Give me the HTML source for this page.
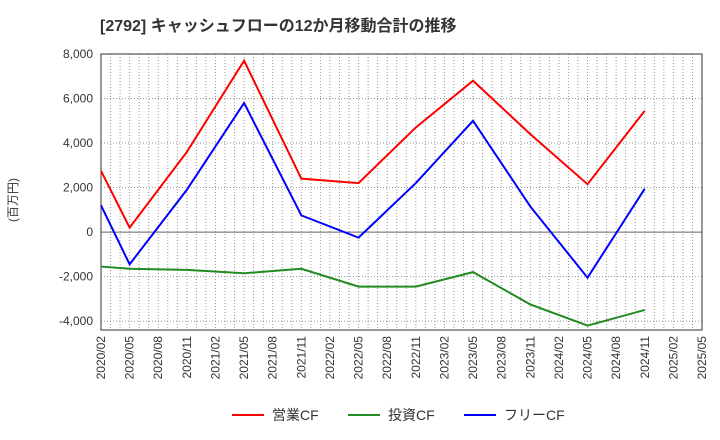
<!DOCTYPE html>
<html><head><meta charset="utf-8"><style>
body{margin:0;background:#fff;}
svg{display:block;font-family:"Liberation Sans","Noto Sans CJK JP",sans-serif;}
</style></head><body>
<svg id="c" width="720" height="440">
<text x="100" y="31" font-size="16" font-weight="bold" fill="#333">[2792]  キャッシュフローの12か月移動合計の推移</text>
<g id="grid"></g>
<g id="axes"></g>
<g id="series"></g>
<text transform="translate(17,200) rotate(-90)" font-size="12" fill="#333" text-anchor="middle">(百万円)</text>
<g>
<g><line x1="232" y1="415" x2="264" y2="415" stroke="#f00" stroke-width="2"/><text x="272" y="420" font-size="14" fill="#333">営業CF</text></g>
<g><line x1="348" y1="415" x2="380" y2="415" stroke="#228b22" stroke-width="2"/><text x="388" y="420" font-size="14" fill="#333">投資CF</text></g>
<g><line x1="464" y1="415" x2="496" y2="415" stroke="#00f" stroke-width="2"/><text x="504" y="420" font-size="14" fill="#333">フリーCF</text></g>
</g>
</svg>
<script>
const dates=["2020/02","2020/05","2020/11","2021/05","2021/11","2022/05","2022/11","2023/05","2023/11","2024/05","2024/11"];
const operating=[2750,200,3600,7700,2400,2200,4700,6800,4400,2150,5450];
const investing=[-1550,-1650,-1700,-1850,-1650,-2450,-2450,-1800,-3250,-4200,-3500];
const freeCF=[1200,-1450,1900,5800,750,-250,2200,5000,1150,-2050,1950];
const yTicks=[8000,6000,4000,2000,0,-2000,-4000];
const xTicks=["2020/02","2020/05","2020/08","2020/11","2021/02","2021/05","2021/08","2021/11","2022/02","2022/05","2022/08","2022/11","2023/02","2023/05","2023/08","2023/11","2024/02","2024/05","2024/08","2024/11","2025/02","2025/05"];
const NS="http://www.w3.org/2000/svg";
const L=101,R=702,T=54,B=330,yMax=8000,yMin=-4400;
const mi=s=>{const[a,b]=s.split("/").map(Number);return (a-2020)*12+(b-2);};
const totalM=mi("2025/05");
const X=s=>L+(R-L)*mi(s)/totalM;
const Y=v=>T+(B-T)*(yMax-v)/(yMax-yMin);
function mk(t,a,p){const e=document.createElementNS(NS,t);for(const k in a)e.setAttribute(k,a[k]);p.appendChild(e);return e;}
const g=document.getElementById("grid"),ax=document.getElementById("axes"),s=document.getElementById("series");
for(let m=1;m<totalM;m++){const x=L+(R-L)*m/totalM;const l=mk("line",{x1:x,x2:x,y1:T,y2:B,stroke:"#999","stroke-dasharray":"1,2","stroke-width":1},g);}
yTicks.forEach(v=>{const y=Y(v);const l=mk("line",{x1:L,x2:R,y1:y,y2:y,stroke:v===0?"#666":"#999","stroke-dasharray":v===0?"":"1,2","stroke-width":1},g);
const t=mk("text",{x:L-8,y:y+4,"text-anchor":"end","font-size":12,fill:"#333"},ax);t.textContent=v.toLocaleString("en-US");});
mk("rect",{x:L,y:T,width:R-L,height:B-T,fill:"none",stroke:"#333","stroke-width":1},ax);
xTicks.forEach(d=>{const x=X(d);const t=mk("text",{transform:`translate(${x+4},${B+6}) rotate(-90)`,"text-anchor":"end","font-size":12,fill:"#333"},ax);t.textContent=d;});
[[operating,"#f00","operating-cf-line"],[investing,"#228b22","investing-cf-line"],[freeCF,"#00f","free-cf-line"]].forEach(([arr,c,n])=>{
const p=mk("polyline",{points:arr.map((v,i)=>X(dates[i])+","+Y(v)).join(" "),fill:"none",stroke:c,"stroke-width":2},s);});
</script>
</body></html>
